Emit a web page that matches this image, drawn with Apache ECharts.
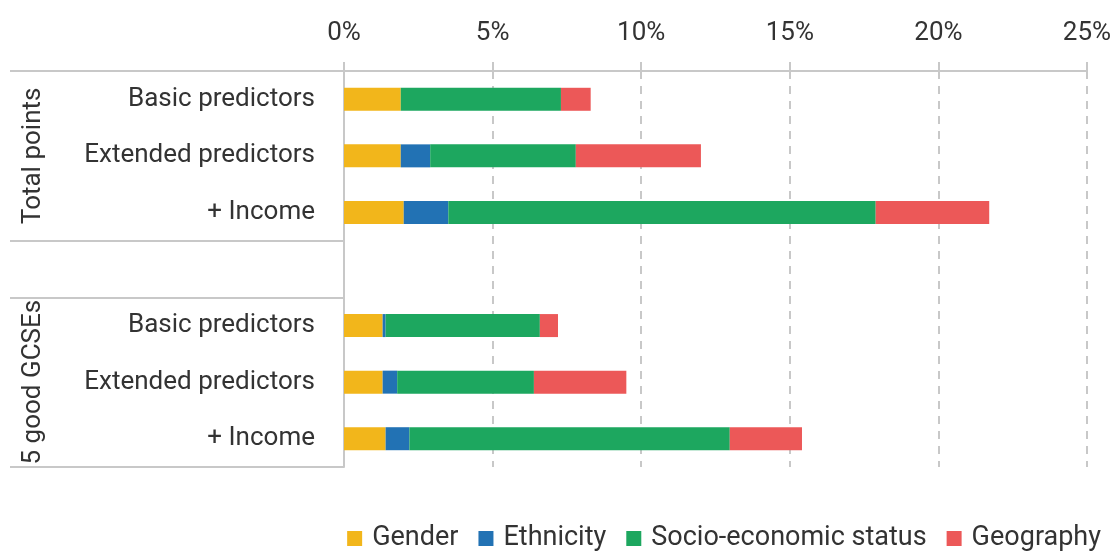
<!DOCTYPE html>
<html>
<head>
<meta charset="utf-8">
<script src="https://cdn.jsdelivr.net/npm/echarts@6/dist/echarts.min.js"></script>
<style>
html,body{margin:0;padding:0;background:#fff;}
#chart{width:1115px;height:551px;}
</style>
</head>
<body>
<div id="chart"></div>
<script>
var categories = ["Basic predictors", "Extended predictors", "+ Income", "", "Basic predictors", "Extended predictors", "+ Income"];
var groupLabels = ["", "Total points", "", "", "", "5 good GCSEs", ""];
var seriesNames = ["Gender", "Ethnicity", "Socio-economic status", "Geography"];
var gender    = [1.91, 1.91, 2.01, null, 1.30, 1.30, 1.40];
var ethnicity = [0.00, 0.99, 1.50, null, 0.10, 0.49, 0.80];
var socio     = [5.39, 4.90, 14.38, null, 5.19, 4.60, 10.78];
var geography = [1.00, 4.21, 3.82, null, 0.61, 3.11, 2.43];
var xTicks = [0, 5, 10, 15, 20, 25];
var colors = ["#F2B61B", "#2272B4", "#1DA75F", "#EC5858"];

var FONT = "Roboto";
var GREY = "#c8c8c8";
var TEXT = "#333333";

var chart = echarts.init(document.getElementById('chart'), null, {renderer: 'canvas'});
var dataSets = [gender, ethnicity, socio, geography];
var series = seriesNames.map(function (n, i) {
  return {
    name: n,
    type: 'bar',
    stack: 'total',
    barWidth: 23,
    yAxisIndex: 0,
    itemStyle: {color: colors[i]},
    data: dataSets[i].map(function (v) { return v === null ? '-' : v; })
  };
});

chart.setOption({
  animation: false,
  textStyle: {fontFamily: FONT},
  grid: {left: 344, right: 28, top: 71, bottom: 84, containLabel: false},
  legend: {
    data: seriesNames,
    right: 14,
    top: 525,
    padding: 0,
    itemGap: 20,
    itemWidth: 15,
    itemHeight: 15,
    icon: 'rect',
    textStyle: {fontFamily: FONT, fontSize: 27, color: TEXT, padding: [0, 0, 0, 5]}
  },
  xAxis: {
    type: 'value',
    position: 'top',
    min: xTicks[0],
    max: xTicks[xTicks.length - 1],
    interval: xTicks[1] - xTicks[0],
    axisLine: {show: true, lineStyle: {color: GREY, width: 2}},
    axisTick: {show: true, length: 9, lineStyle: {color: GREY, width: 2}},
    axisLabel: {formatter: '{value}%', fontFamily: FONT, fontSize: 26, color: TEXT, margin: 25},
    splitLine: {show: true, lineStyle: {color: GREY, width: 2, type: [8, 7]}}
  },
  yAxis: [
    {
      type: 'category',
      inverse: true,
      data: categories,
      axisLine: {show: true, lineStyle: {color: GREY, width: 2}},
      axisTick: {
        show: true,
        length: 334,
        interval: function (i) { return i === 0 || i === 3 || i === 4; },
        lineStyle: {color: GREY, width: 2}
      },
      axisLabel: {fontFamily: FONT, fontSize: 26, color: TEXT, margin: 29, interval: 0},
      splitLine: {show: false}
    },
    {
      type: 'category',
      inverse: true,
      position: 'left',
      data: categories,
      axisLine: {show: false},
      axisTick: {show: false},
      axisLabel: {
        interval: 0,
        rotate: 90,
        margin: 298,
        fontFamily: FONT,
        fontSize: 26,
        color: TEXT,
        formatter: function (v, i) { return groupLabels[i]; }
      },
      splitLine: {show: false}
    }
  ],
  series: series
});
</script>
</body>
</html>
